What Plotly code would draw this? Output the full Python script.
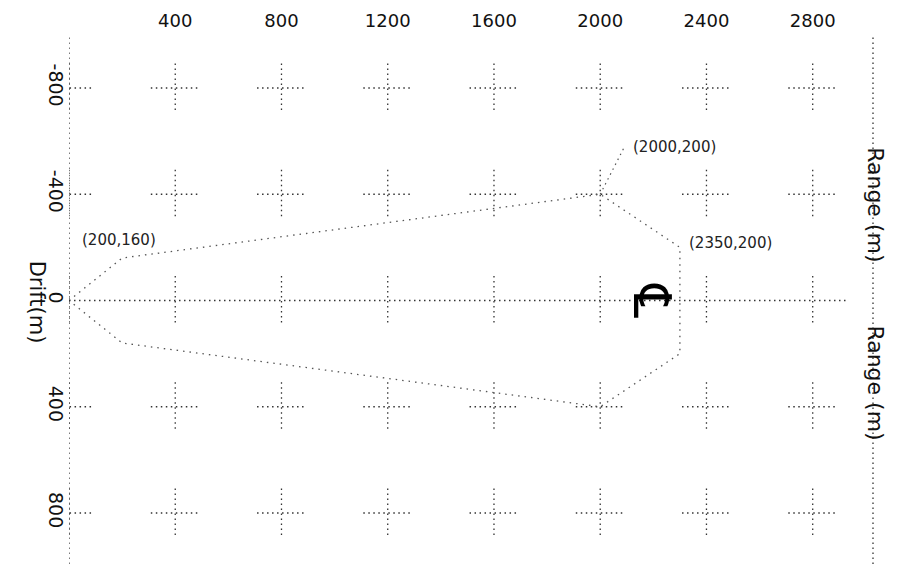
import plotly.graph_objects as go

# ---- data ----
range_ticks = [400, 800, 1200, 1600, 2000, 2400, 2800]
drift_ticks = [-800, -400, 0, 400, 800]

# zone outline (range m, drift m), closed
zone_range = [0, 200, 2000, 2300, 2300, 2000, 200, 0]
zone_drift = [0, -160, -400, -200, 200, 400, 160, 0]

point_labels = ["(200,160)", "(2000,200)", "(2350,200)"]

# axis extents
X_MAX = 3027
Y_LIM = 992
M_PER_PX = 3.765  # metres per pixel at this size

FONT = "DejaVu Sans"
DOT = "1.5px,3.5px"
ARM = 92  # half length of grid crosses (m)

fig = go.Figure()

# grid crosses at tick intersections (plus half crosses on the left edge);
# the y=0 row only gets vertical arms, the centre line covers the rest
gx, gy = [], []
for xv in [0] + range_ticks:
    for yv in drift_ticks:
        if yv != 0:
            gx += [xv - ARM, xv + ARM, None]
            gy += [yv, yv, None]
        gx += [xv, xv, None]
        gy += [yv - ARM, yv + ARM, None]
fig.add_trace(go.Scatter(
    x=gx, y=gy, mode="lines",
    line=dict(color="#333", width=1.3, dash=DOT),
    hoverinfo="skip", showlegend=False,
))

# zone outline
fig.add_trace(go.Scatter(
    x=zone_range, y=zone_drift, mode="lines",
    line=dict(color="#555", width=1.3, dash="1.5px,5px"),
    hoverinfo="skip", showlegend=False,
))

shapes = [
    # left / right frame lines and the centre line
    dict(type="line", xref="x", yref="paper", x0=0, x1=0, y0=0, y1=1,
         line=dict(color="#333", width=1.3, dash=DOT)),
    dict(type="line", xref="paper", yref="paper", x0=1, x1=1, y0=0, y1=1.002,
         line=dict(color="#333", width=1.3, dash=DOT)),
    dict(type="line", xref="paper", yref="y", x0=0, x1=0.97, y0=0, y1=0,
         line=dict(color="#333", width=1.3, dash=DOT)),
    # leader for the (2000,200) label
    dict(type="line", xref="x", yref="y",
         x0=zone_range[2], y0=zone_drift[2],
         x1=zone_range[2] + 24 * M_PER_PX, y1=zone_drift[2] - 47 * M_PER_PX,
         line=dict(color="#555", width=1.2, dash="1.5px,4px")),
]

lab_font = dict(family=FONT, size=15, color="#222")
annotations = [
    dict(x=zone_range[1], y=zone_drift[1], text=point_labels[0],
         showarrow=False, xanchor="center", yanchor="middle", yshift=18,
         xshift=-3, font=lab_font),
    dict(x=zone_range[2], y=zone_drift[2], text=point_labels[1],
         showarrow=False, xanchor="left", yanchor="middle", xshift=31,
         yshift=47, font=lab_font),
    dict(x=zone_range[3], y=zone_drift[3], text=point_labels[2],
         showarrow=False, xanchor="left", yanchor="middle", xshift=7,
         yshift=4, font=lab_font),
    # centre-line symbol
    dict(x=2195, y=0, text="\u2104", showarrow=False, textangle=90,
         font=dict(family=FONT, size=52, color="#000")),
    # axis titles (rotated)
    dict(xref="paper", yref="y", x=-0.057, y=5, text="Drift(m)",
         showarrow=False, textangle=90,
         font=dict(family=FONT, size=21, color="#111")),
    dict(xref="paper", yref="paper", x=1.021, y=0.795, text="Range (m)",
         showarrow=False, textangle=90,
         font=dict(family=FONT, size=22, color="#111")),
    dict(xref="paper", yref="paper", x=1.021, y=0.231, text="Range (m)",
         showarrow=False, textangle=90,
         font=dict(family=FONT, size=22, color="#111")),
]

# the page body adds an 8px offset, so the margins are trimmed by that much
fig.update_layout(
    width=910, height=564,
    margin=dict(l=61, r=45, t=29, b=8),
    paper_bgcolor="white", plot_bgcolor="white",
    showlegend=False,
    shapes=shapes,
    annotations=annotations,
    xaxis=dict(
        range=[0, X_MAX], side="top", automargin=False,
        tickvals=range_ticks, ticktext=[str(v) for v in range_ticks],
        showgrid=False, zeroline=False, showline=False, ticks="",
        ticklabelstandoff=5,
        tickfont=dict(family=FONT, size=18, color="#111"),
    ),
    yaxis=dict(
        range=[Y_LIM, -Y_LIM], automargin=False,
        tickvals=drift_ticks, ticktext=[str(v) for v in drift_ticks],
        tickangle=90,
        showgrid=False, zeroline=False, showline=False, ticks="",
        tickfont=dict(family=FONT, size=19, color="#111"),
    ),
)

fig.write_html("out.html")
